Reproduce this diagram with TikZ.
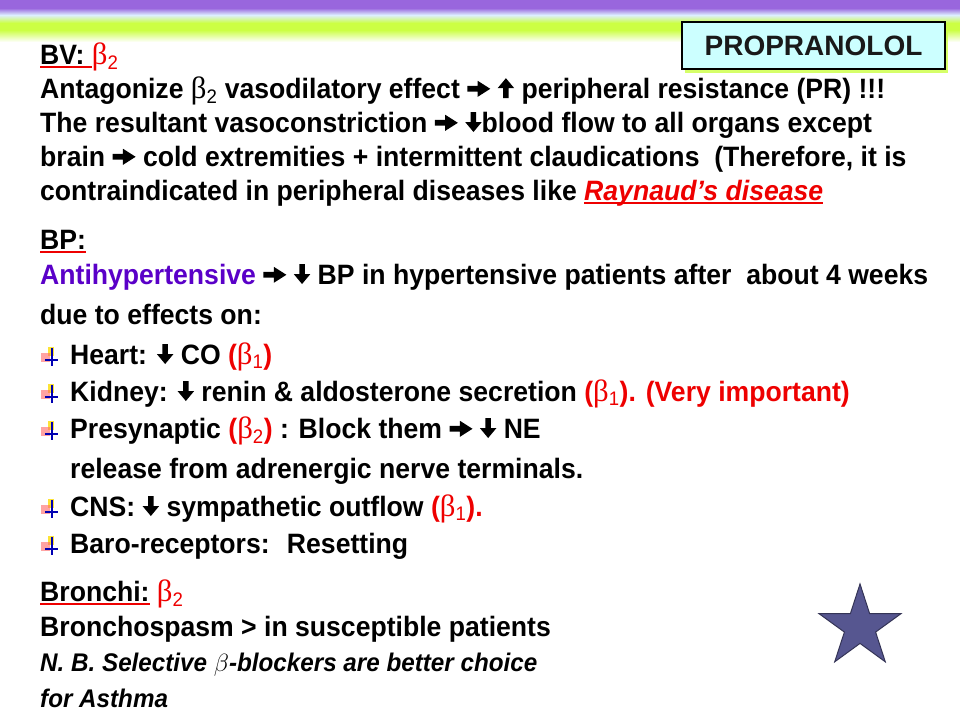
\documentclass[tikz,border=0pt]{standalone}
\usepackage{fontspec}
\setmainfont{Liberation Sans}[FakeStretch=0.95]
\newfontfamily\boxfont{Liberation Sans}
\newfontfamily\greekfont{Liberation Serif}[Scale=1.1]
\usetikzlibrary{shadows}

\definecolor{slidered}{HTML}{EE0000}
\definecolor{slidepurple}{HTML}{5A00C8}
\definecolor{barpurple}{HTML}{9966DD}
\definecolor{barblue}{HTML}{DDEEFF}
\definecolor{bargreen}{HTML}{CCFF44}
\definecolor{boxcyan}{HTML}{CCFFFF}
\definecolor{starblue}{HTML}{565690}

% arrows and greek letters
\newcommand\rarr{\tikz[x=1.15pt,y=1.15pt,baseline=0pt]\fill (0,5.5)--(9,5.5)--(9,1)--(20,8)--(9,15)--(9,10.5)--(0,10.5)--cycle;}
\newcommand\darr{\tikz[x=1.1pt,y=1.1pt,baseline=0pt]\fill (5,18)--(10,18)--(10,9)--(15,9)--(7.5,0)--(0,9)--(5,9)--cycle;}
\newcommand\uarr{\tikz[x=1.1pt,y=1.1pt,baseline=0pt]\fill (5,0)--(10,0)--(10,9)--(15,9)--(7.5,18)--(0,9)--(5,9)--cycle;}
\newcommand\bet[1]{{\greekfont\mdseries\char"03B2}\textsubscript{\mdseries #1}}
\newcommand\ulr[1]{\setbox0\hbox{#1}\rlap{\color{slidered}\rule[-3.5pt]{\wd0}{1.8pt}}\box0\relax}

\begin{document}
\begin{tikzpicture}[x=1pt,y=-1pt]
    \tikzstyle{txt}=[anchor=base west,inner sep=0,font=\bfseries\fontsize{28}{32}\selectfont]
    \tikzstyle{note}=[txt,font=\bfseries\itshape\fontsize{25.5}{30}\selectfont]
    \tikzstyle{drugbox}=[draw=black,line width=2pt,fill=boxcyan,minimum width=263,minimum height=47,
      font=\boxfont\bfseries\fontsize{28}{28}\selectfont,text=black!90,
      drop shadow={fill=bargreen,shadow xshift=3pt,shadow yshift=-4pt,opacity=0.8}]
    \useasboundingbox (0,0) rectangle (960,720);
    \fill[white] (0,0) rectangle (960,720);

    % banner
    \fill[barpurple] (0,0) rectangle (960,8);
    \shade[top color=barpurple,bottom color=barblue] (0,8) rectangle (960,15);
    \shade[top color=barblue,bottom color=bargreen] (0,15) rectangle (960,23);
    \fill[bargreen] (0,23) rectangle (960,30);
    \shade[top color=bargreen,bottom color=white] (0,30) rectangle (960,42);

      \node (drug) at (813.5,45.5) [drugbox] {PROPRANOLOL};

      % blood vessels
      \node (bv) at (40,64) [txt] {\ulr{BV: }{\color{slidered}\bet{2}}};
      \node (antag) at (40,98) [txt] {Antagonize \bet{2} vasodilatory effect \rarr{} \uarr{} peripheral resistance (PR) !!!};
      \node (result) at (40,132) [txt] {The resultant vasoconstriction \rarr{} \darr{}blood flow to all organs except};
      \node (brain) at (40,166) [txt] {brain \rarr{} cold extremities + intermittent claudications \ (Therefore, it is};
      \node (contra) at (40,200) [txt] {contraindicated in peripheral diseases like \ulr{\color{slidered}\itshape Raynaud’s disease}};

      % blood pressure
      \node (bp) at (40,249) [txt] {\ulr{BP:}};
      \node (antihyp) at (40,284) [txt] {{\color{slidepurple}Antihypertensive} \rarr{} \darr{} BP in hypertensive patients after \ about 4 weeks};
      \node (due) at (40,324) [txt] {due to effects on:};
      \node (heart) at (70,364) [txt] {Heart: \darr{} CO {\color{slidered}(\bet{1})}};
      \node (kidney) at (70,401) [txt] {Kidney: \darr{} renin \& aldosterone secretion {\color{slidered}(\bet{1}). (Very important)}};
      \node (presyn) at (70,438) [txt] {Presynaptic {\color{slidered}(\bet{2})} : Block them \rarr{} \darr{} NE};
      \node (release) at (70,478) [txt] {release from adrenergic nerve terminals.};
      \node (cns) at (70,516) [txt] {CNS: \darr{} sympathetic outflow {\color{slidered}(\bet{1}).}};
      \node (baro) at (70,553) [txt] {Baro-receptors: \ Resetting};

      % bullets
      \foreach \b in {364,401,438,516,553} {
        \fill[yellow!80!orange,opacity=0.8] (48,\b-17) rectangle (54,\b-8);
        \fill[red!60!white,opacity=0.6] (41,\b-11) rectangle (50,\b-2);
        \draw[blue!70!black,line width=1.6pt] (52,\b-16) -- (52,\b+2);
        \draw[blue!70!black,line width=1.6pt] (45,\b-4) -- (58,\b-4);
      }

      % bronchi
      \node (bronchi) at (40,601) [txt] {\ulr{Bronchi:} {\color{slidered}\bet{2}}};
      \node (spasm) at (40,636) [txt] {Bronchospasm > in susceptible patients};
      \node (nb) at (40,671) [note] {N. B. Selective $\beta$-blockers are better choice};
      \node (asthma) at (40,707) [note] {for Asthma};

      % star
      \filldraw[fill=starblue,draw=starblue!60!black,line width=1pt,shift={(860,627)}]
        (-90:43) -- (-54:16.4) -- (-18:43) -- (18:16.4) -- (54:43) -- (90:16.4)
        -- (126:43) -- (162:16.4) -- (198:43) -- (234:16.4) -- cycle;
  \end{tikzpicture}
\end{document}
